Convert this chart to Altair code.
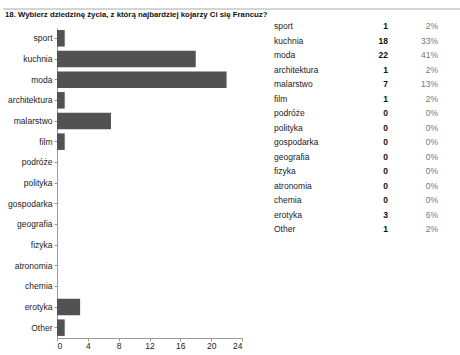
import altair as alt
import pandas as pd

categories = ["sport", "kuchnia", "moda", "architektura", "malarstwo", "film",
              "podróże", "polityka", "gospodarka", "geografia", "fizyka",
              "atronomia", "chemia", "erotyka", "Other"]
counts = [1, 18, 22, 1, 7, 1, 0, 0, 0, 0, 0, 0, 0, 3, 1]
percents = [2, 33, 41, 2, 13, 2, 0, 0, 0, 0, 0, 0, 0, 6, 2]
x_ticks = [0, 4, 8, 12, 16, 20, 24]
title_text = "18. Wybierz dziedzinę życia, z którą najbardziej kojarzy Ci się Francuz?"

df = pd.DataFrame({
    "cat": categories,
    "n": counts,
    "pct": [f"{p}%" for p in percents],
})

FONT = "Liberation Sans"

bars = alt.Chart(df).mark_bar(color="#525252").encode(
    x=alt.X("n:Q", scale=alt.Scale(domain=[0, 24], nice=False),
            axis=alt.Axis(values=x_ticks, title=None, grid=False, domainColor="#999999",
                          tickColor="#999999", tickSize=3, labelFontSize=8.5,
                          labelFont=FONT, labelColor="#222222", labelPadding=0)),
    y=alt.Y("cat:N", sort=categories,
            scale=alt.Scale(paddingInner=0.2, paddingOuter=0.1),
            axis=alt.Axis(title=None, grid=False, domainColor="#999999",
                          tickColor="#999999", tickSize=3, labelFontSize=8.5,
                          labelFont=FONT, labelColor="#222222", labelPadding=2)),
)

ty = alt.Y("cat:N", sort=categories,
           scale=alt.Scale(type="point", range=[-2, 201], padding=0), axis=None)

lab = alt.Chart(df).mark_text(align="left", baseline="middle", fontSize=8.5,
                              font=FONT, color="#222222").encode(
    x=alt.value(217), y=ty, text="cat:N")
cnt = alt.Chart(df).mark_text(align="right", baseline="middle", fontSize=8.5,
                              font=FONT, fontWeight="bold", color="#111111").encode(
    x=alt.value(331), y=ty, text="n:Q")
pct = alt.Chart(df).mark_text(align="right", baseline="middle", fontSize=8.5,
                              font=FONT, color="#777777").encode(
    x=alt.value(381), y=ty, text="pct:N")

top = pd.DataFrame({"t": [title_text]})
rule = alt.Chart(top).mark_rule(color="#aaaaaa", strokeWidth=1).encode(
    x=alt.value(-54), x2=alt.value(403), y=alt.value(-19))
title = alt.Chart(top).mark_text(align="left", baseline="alphabetic", fontSize=7.8,
                                 font=FONT, fontWeight="bold", color="#111111").encode(
    x=alt.value(-52), y=alt.value(-11), text="t:N")

table = alt.layer(lab, cnt, pct)

chart = alt.layer(bars, table, rule, title).resolve_scale(y="independent").properties(
    width=185,
    height=310,
    autosize="none",
    padding={"left": 57, "top": 28, "right": 218, "bottom": 17},
).configure_view(stroke=None)

chart.save("out.html", embed_options={"renderer": "svg", "actions": False})
